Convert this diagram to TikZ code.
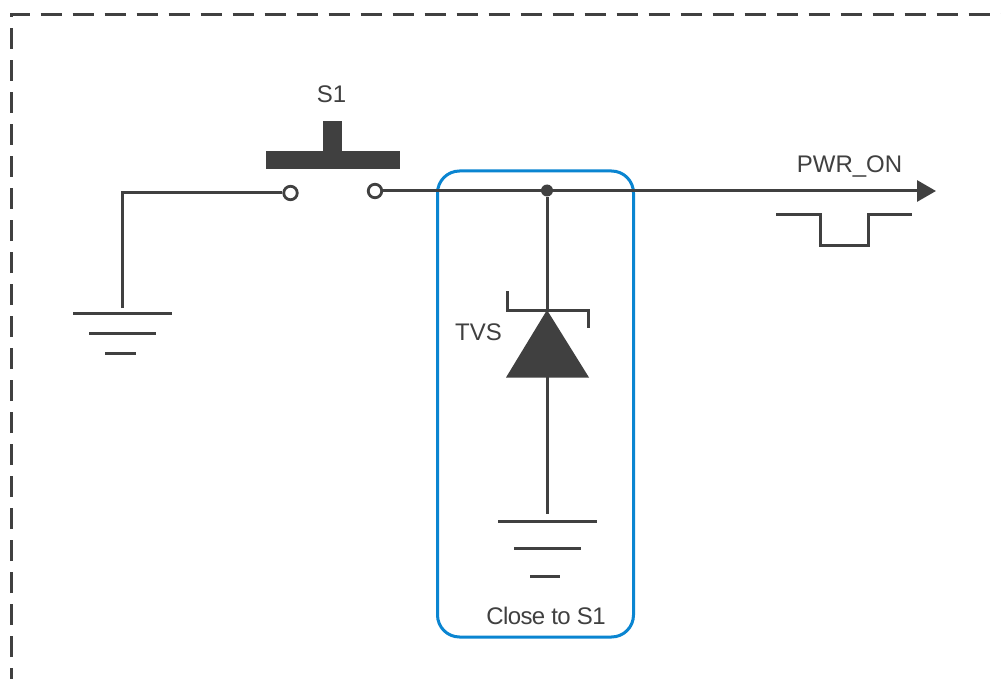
\documentclass[tikz,border=0pt]{standalone}
\usepackage{fontspec}
\setmainfont{Liberation Sans}
\usetikzlibrary{arrows.meta}
\definecolor{ink}{HTML}{404040}
\definecolor{boxblue}{HTML}{0A85D1}
\tikzset{
  wire/.style={draw=ink,line width=3pt},
  gndbar/.style={draw=ink,line width=3pt},
  thin wire/.style={draw=ink,line width=3pt},
  term/.style={circle,draw=ink,fill=white,line width=2.8pt,minimum size=13.5pt,inner sep=0pt},
  junction/.style={circle,fill=ink,minimum size=12pt,inner sep=0pt},
  solid part/.style={fill=ink,draw=none},
  lbl/.style={text=ink,font=\fontsize{24}{28}\selectfont,inner sep=0pt,anchor=base},
  framebox/.style={draw=ink,line width=3pt,dash pattern=on 21pt off 11pt,dash phase=10pt},
  closebox/.style={draw=boxblue,line width=3pt,rounded corners=22pt}
}
\begin{document}
\begin{tikzpicture}[x=1pt,y=-1pt]
\useasboundingbox (0,0) rectangle (1001,679);
\fill[white] (0,0) rectangle (1001,679);
% outer frame
\draw[framebox] (11,679) -- (11,14.5) -- (1001,14.5);
% close-to box
\draw[closebox] (437.5,171) rectangle (633.5,637);
% push button
\fill[solid part] (266,151) rectangle (399.5,169.5);
\fill[solid part] (323,121) rectangle (342,151);
\node[lbl] (s1) at (331.5,103) {S1};
% terminals and junction
\coordinate (gnda) at (122,308);
\coordinate (bend) at (122,193);
\node[term] (tl) at (290.5,193) {};
\node[term] (tr) at (375,191) {};
\node[junction] (j) at (547,190.5) {};
\coordinate (out) at (936,191);
% wires
\draw[wire] (gnda) -- (bend) -- (tl.west);
\draw[wire,-{Triangle[length=19pt,width=21pt]}] (tr.east) -- (out);
% left ground
\draw[gndbar] (73,313) -- (172,313);
\draw[gndbar] (89,333) -- (156,333);
\draw[gndbar] (105,353) -- (136,353);
% TVS
\coordinate (apex) at (547,310);
\coordinate (base) at (547,377);
\coordinate (gndb) at (547,514);
\fill[solid part] (apex) -- (589,377.5) -- (506,377.5) -- cycle;
\draw[wire] (j) -- (apex);
\draw[wire] (base) -- (gndb);
\draw[thin wire] (507,291) -- (507,310) -- (588,310) -- (588,328);
\node[lbl] (tvs) at (478.5,340.5) {TVS};
% lower ground
\draw[gndbar] (498,521) -- (597,521);
\draw[gndbar] (514,548) -- (581,548);
\draw[gndbar] (530,576) -- (560,576);
\node[lbl] (close) at (546,624) {\addfontfeature{LetterSpace=-2.5}Close to S1};
% signal
\node[lbl] (pwr) at (849.5,172.5) {PWR\_ON};
\draw[thin wire] (776,215) -- (820,215) -- (820,245) -- (868,245) -- (868,215) -- (912,215);
\end{tikzpicture}
\end{document}
